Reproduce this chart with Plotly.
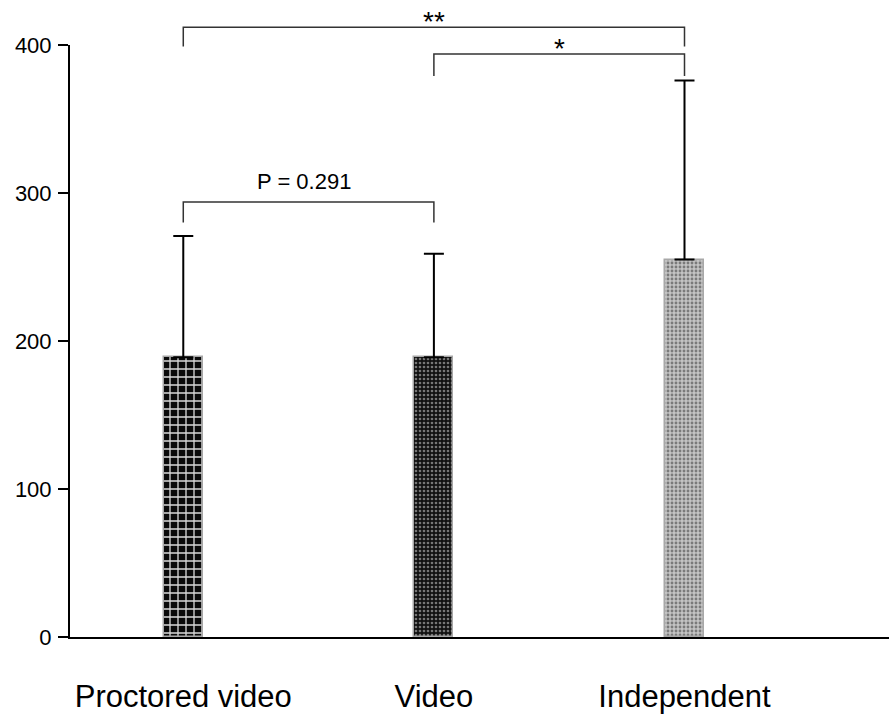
import plotly.graph_objects as go

categories = ["Proctored video", "Video", "Independent"]
means = [189, 189, 255]
sd_upper = [82, 70, 121]
y_ticks = [0, 100, 200, 300, 400]

# significance comparisons: (from index, to index, label, bracket level, leg bottom)
comparisons = [
    (0, 1, "P = 0.291", 294, 280),
    (1, 2, "*", 394, 379),
    (0, 2, "**", 412, 399),
]

x_pos = list(range(len(categories)))
YMAX = 400
FONT = "Liberation Sans, Arial, sans-serif"

patterns = [
    dict(shape="+", bgcolor="#0a0a0a", fgcolor="#d8d8d8", size=8, solidity=0.3, fillmode="replace"),
    dict(shape=".", bgcolor="#111111", fgcolor="#777777", size=4, solidity=0.35, fillmode="replace"),
    dict(shape=".", bgcolor="#c4c4c4", fgcolor="#7a7a7a", size=4, solidity=0.4, fillmode="replace"),
]

fig = go.Figure()
for i, cat in enumerate(categories):
    fig.add_trace(go.Bar(
        x=[x_pos[i]], y=[means[i]], width=0.156,
        marker=dict(color="#444", pattern=patterns[i], line=dict(color="#a8a8a8", width=1.5)),
        error_y=dict(type="data", symmetric=False, array=[sd_upper[i]], arrayminus=[0],
                     thickness=2, width=10, color="black"),
        showlegend=False, cliponaxis=False, hoverinfo="skip",
    ))

shapes = []
annotations = []
for a, b, label, level, leg in comparisons:
    xa, xb = x_pos[a], x_pos[b]
    shapes.append(dict(
        type="path", xref="x", yref="paper",
        path=f"M {xa},{leg/YMAX} L {xa},{level/YMAX} L {xb},{level/YMAX} L {xb},{leg/YMAX}",
        line=dict(color="#333", width=1.5),
    ))
    is_star = label.startswith("*")
    annotations.append(dict(
        x=(xa + xb) / 2 - (0.02 if not is_star else 0), y=level / YMAX, xref="x", yref="paper",
        text=label, showarrow=False, yanchor="bottom",
        yshift=(-12 if is_star else 6),
        font=dict(family=FONT, size=(28 if is_star else 22), color="black"),
    ))

fig.update_layout(
    width=889, height=714,
    margin=dict(l=70, r=0, t=45, b=73),
    paper_bgcolor="white", plot_bgcolor="white",
    font=dict(family=FONT, color="black"),
    shapes=shapes, annotations=annotations,
    bargap=0,
)
fig.update_xaxes(
    range=[-0.452, 2.816], tickvals=x_pos, ticktext=categories,
    tickfont=dict(size=31, family=FONT, color="black"),
    showline=True, linecolor="black", linewidth=2, ticks="", ticklabelstandoff=31,
    showgrid=False, zeroline=False,
)
fig.update_yaxes(
    range=[0, YMAX], tickvals=y_ticks,
    tickfont=dict(size=22, family=FONT, color="black"),
    showline=True, linecolor="black", linewidth=2,
    ticks="outside", ticklen=10, tickwidth=2, tickcolor="black", ticklabelstandoff=2,
    showgrid=False, zeroline=False,
)
fig.write_html(
    "out.html",
    config={"displayModeBar": False},
    post_script="document.body.style.margin='0';document.body.style.overflow='hidden';",
)
